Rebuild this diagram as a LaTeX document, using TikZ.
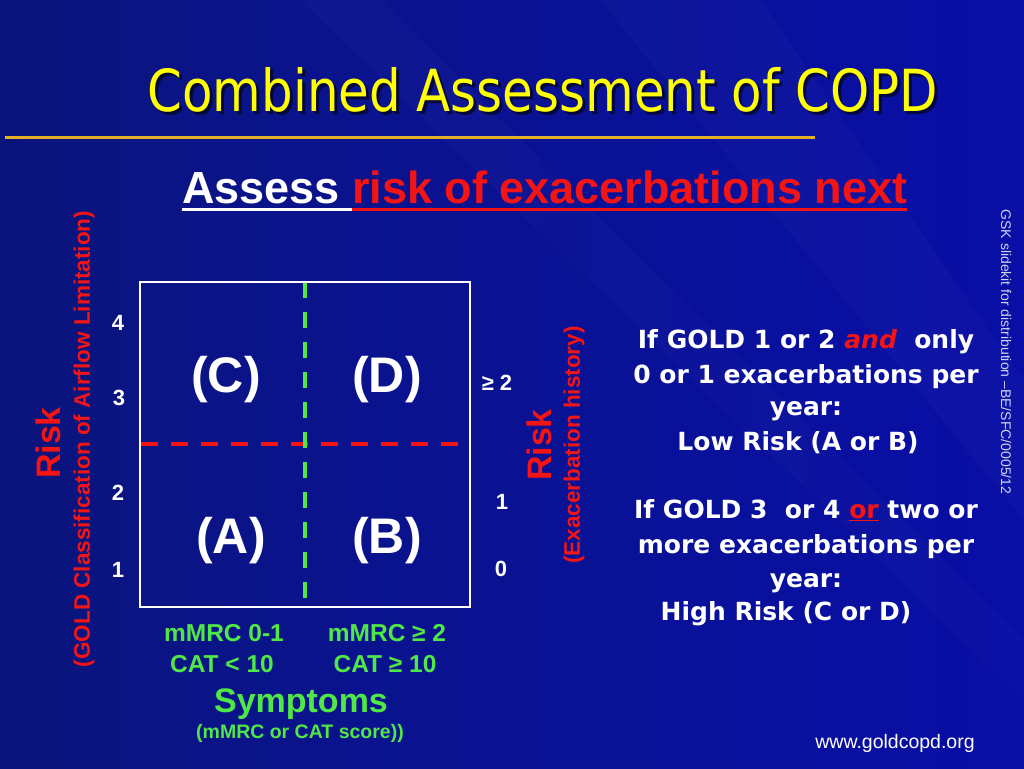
\documentclass[tikz,border=0pt]{standalone}
\usepackage{fontspec}
\usepackage{graphicx}
\setmainfont{Liberation Sans}
\newfontfamily\tahoma{DejaVu Sans}
\definecolor{bgL}{RGB}{10,18,88}
\definecolor{bgM}{RGB}{10,20,135}
\definecolor{bgR}{RGB}{8,10,185}
\definecolor{ttl}{RGB}{255,255,0}
\definecolor{gold}{RGB}{226,176,40}
\definecolor{rred}{RGB}{245,20,20}
\definecolor{ggreen}{RGB}{80,232,70}
\definecolor{gsk}{RGB}{205,212,238}
\pgfdeclarehorizontalshading{slidebg}{100bp}{color(0bp)=(bgL); color(35bp)=(bgM); color(100bp)=(bgR)}
\newcommand\fsz[1]{\fontsize{#1}{#1}\selectfont}
\tikzset{
  txt/.style={inner sep=0pt, outer sep=0pt, anchor=base},
  quad/.style={txt, text=white, font=\fsz{50}\bfseries},
  tick/.style={txt, text=white, font=\fsz{22}\bfseries},
  sym/.style={txt, text=ggreen, font=\fsz{24.5}\bfseries},
  rule/.style={txt, text=white, font=\tahoma\fsz{25}\bfseries},
  gridbox/.style={draw=white, line width=2pt},
  gdash/.style={draw=ggreen, line width=4pt, dash pattern=on 16pt off 14pt},
  rdash/.style={draw=rred, line width=4.5pt, dash pattern=on 17pt off 13pt},
}
\begin{document}
\begin{tikzpicture}[x=1pt,y=-1pt]
\useasboundingbox (0,0) rectangle (1024,768);
% background
\shade[shading=slidebg] (0,0) rectangle (1024,768);
\fill[white, opacity=0.025] (600,0) -- (760,0) -- (1024,380) -- (1024,520) -- cycle;
\fill[white, opacity=0.02] (300,0) -- (380,0) -- (1024,640) -- (1024,700) -- cycle;

% title
\node[txt, text=black, opacity=0.6] (titleshadow) at (546,114) {\scalebox{0.86}[1]{\tahoma\fsz{58}Combined Assessment of COPD}};
\node[txt, text=ttl] (title) at (543,111) {\scalebox{0.86}[1]{\tahoma\fsz{58}Combined Assessment of COPD}};
\coordinate (gl1) at (5,137.5);
\coordinate (gl2) at (815,137.5);
\draw[gold, line width=3pt] (gl1) -- (gl2);

% subtitle
\node[txt, anchor=base west, text=white, font=\fsz{45}\bfseries] (assess) at (182,203) {\mbox{Assess\ }};
\node[txt, anchor=base west, text=rred, font=\fsz{45}\bfseries] (risknext) at (assess.base east) {risk of exacerbations next};
\draw[white, line width=3pt] ([yshift=-6pt]assess.base west) -- ([yshift=-6pt]assess.base east);
\draw[rred, line width=3pt] ([yshift=-6pt]risknext.base west) -- ([yshift=-6pt]risknext.base east);

% grid
\coordinate (bx1) at (140,282);
\coordinate (bx2) at (470,607);
\coordinate (gtop) at (305,282);
\coordinate (gbot) at (305,607);
\coordinate (rleft) at (141,444);
\coordinate (rright) at (466,444);
\draw[rdash] (rleft) -- (rright);
\draw[gdash] (gtop) -- (gbot);
\draw[gridbox] (bx1) rectangle (bx2);

\node[quad] (qC) at (226,392) {(C)};
\node[quad] (qD) at (387,392) {(D)};
\node[quad] (qA) at (231,553) {(A)};
\node[quad] (qB) at (387,553) {(B)};

% left ticks
\node[tick] (l4) at (118,330) {4};
\node[tick] (l3) at (119,405) {3};
\node[tick] (l2) at (118,500) {2};
\node[tick] (l1) at (118,577) {1};
% right ticks
\node[tick] (r2) at (497,390) {≥ 2};
\node[tick] (r1) at (502,509) {1};
\node[tick] (r0) at (501,576) {0};

% left axis labels
\node[inner sep=0pt, rotate=90, text=rred, font=\fsz{34}\bfseries] (riskL) at (48,443) {Risk};
\node[inner sep=0pt, rotate=90, text=rred, font=\fsz{22.5}\bfseries] (goldL) at (84,439) {(GOLD Classification of Airflow Limitation)};
% right axis labels
\node[inner sep=0pt, rotate=90, text=rred, font=\fsz{34}\bfseries] (riskR) at (539,445) {Risk};
\node[inner sep=0pt, rotate=90, text=rred, font=\fsz{22.5}\bfseries] (exR) at (574,445) {(Exacerbation history)};

% symptoms
\node[sym] (m1) at (224,641) {mMRC 0-1};
\node[sym] (c1) at (222,672) {CAT < 10};
\node[sym] (m2) at (387,641) {mMRC ≥ 2};
\node[sym] (c2) at (385,672) {CAT ≥ 10};
\node[txt, text=ggreen, font=\fsz{34}\bfseries] (symp) at (301,712) {Symptoms};
\node[txt, text=ggreen, font=\fsz{19.5}\bfseries] (symsub) at (300,738) {(mMRC or CAT score))};

% rules text
\node[rule] (t1) at (806,348) {If GOLD 1 or 2 {\color{rred}\itshape and}\ \ only};
\node[rule] (t2) at (806,383) {0 or 1 exacerbations per};
\node[rule] (t3) at (806,415) {year:};
\node[rule] (t4) at (798,450) {Low Risk (A or B)};
\node[rule] (t5) at (806,518) {If GOLD 3\ \ or 4 {\color{rred}\underline{or}} two or};
\node[rule] (t6) at (806,553) {more exacerbations per};
\node[rule] (t7) at (806,587) {year:};
\node[rule] (t8) at (786,620) {High Risk (C or D)};

% side note and url
\node[inner sep=0pt, rotate=-90, text=gsk, font=\fsz{14}] (gsknote) at (1006,352) {GSK slidekit for distribution –BE/SFC/0005/12};
\node[txt, text=white, font=\fsz{19.5}] (url) at (895,748) {www.goldcopd.org};
\end{tikzpicture}
\end{document}
